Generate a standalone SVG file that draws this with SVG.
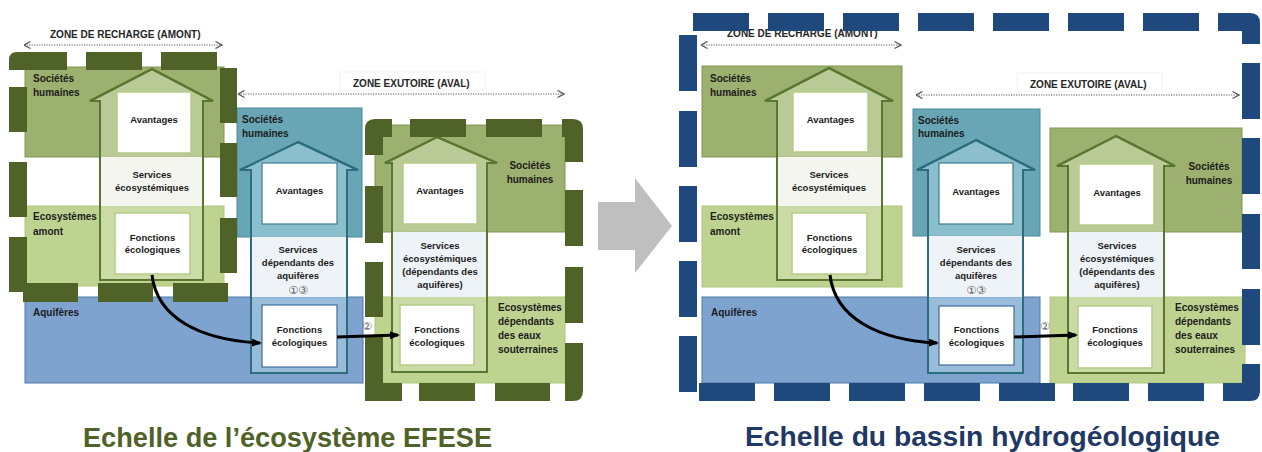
<svg xmlns="http://www.w3.org/2000/svg" width="1262" height="452" viewBox="0 0 1262 452">
<style>
.olive{fill:#9CB06F;stroke:#7E9552;stroke-width:1}
.lg{fill:#BED38F;stroke:#AFC67E;stroke-width:1}
.teal{fill:#68A6B6;stroke:#4A8A9C;stroke-width:1}
.aq{fill:#7FA3CF;stroke:#4F79A9;stroke-width:1}
.garr{fill:#D7E4BD;fill-opacity:.5;stroke:#5A7731;stroke-width:2}
.tarr{fill:#B7DEE8;fill-opacity:.45;stroke:#2C6E80;stroke-width:2}
.gband{fill:#F3F5EE}
.bband{fill:#EEF3F7}
.gbox{fill:#fff;stroke:#B4CB86;stroke-width:1.5}
.tbox{fill:#fff;stroke:#3D7D90;stroke-width:1.2}
.bbox{fill:#fff;stroke:#40699A;stroke-width:1.2}
.lbl{font-family:'Liberation Sans',Arial,sans-serif;font-weight:bold;font-size:10px;fill:#1c1c1c}
.in{font-family:'Liberation Sans',Arial,sans-serif;font-weight:bold;font-size:9.5px;fill:#1c1c1c;text-anchor:middle}
.zone{font-family:'Liberation Sans',Arial,sans-serif;font-weight:bold;font-size:10px;fill:#262626}
.num{font-family:'DejaVu Sans',sans-serif;font-size:11px;fill:#5a5a5a;text-anchor:middle}
.dg{fill:#4F6228}
.db{fill:#1F497D}
.dot{stroke:#666;stroke-width:1.2;stroke-dasharray:1.3 1.2;fill:none;marker-start:url(#chev);marker-end:url(#chev)}
.con{stroke:#000;stroke-width:3;fill:none;marker-end:url(#ah)}
.title{font-family:'Liberation Sans',Arial,sans-serif;font-weight:bold;font-size:27px}
</style>
<defs>
<marker id="chev" viewBox="0 0 8 8" refX="7.5" refY="4" markerWidth="8" markerHeight="8" markerUnits="userSpaceOnUse" orient="auto-start-reverse">
<path d="M1,0.5 L7.5,4 L1,7.5" fill="none" stroke="#555" stroke-width="1.2"/>
</marker>
<marker id="ah" viewBox="0 0 10 8" refX="8" refY="4" markerWidth="10" markerHeight="8" markerUnits="userSpaceOnUse" orient="auto">
<path d="M0,0 L10,4 L0,8 Z" fill="#000"/>
</marker>
</defs>
<rect width="1262" height="452" fill="#fff"/>

<!-- ===== LEFT: Echelle de l'écosystème ===== -->
<g id="zone-recharge-left">
<text class="zone" x="50" y="37.5">ZONE DE RECHARGE (AMONT)</text>
<line class="dot" x1="24" y1="45" x2="222" y2="45"/>
</g>
<g id="zone-exutoire-left">
<rect x="340" y="72" width="145" height="18" fill="#fff" stroke="#f2f2f2"/>
<text class="zone" x="353" y="87">ZONE EXUTOIRE (AVAL)</text>
<line class="dot" x1="238" y1="94" x2="564" y2="94"/>
</g>

<g id="L-societes-amont"><rect class="olive" x="25" y="67" width="199" height="90"/><text class="lbl" x="33" y="81.7">Sociétés</text><text class="lbl" x="33" y="96">humaines</text></g>
<g id="L-ecosystemes-amont"><rect class="lg" x="25" y="206" width="199" height="80"/><text class="lbl" x="33" y="219.5">Ecosystèmes</text><text class="lbl" x="33" y="234.5">amont</text></g>
<g id="L-aquiferes"><rect class="aq" x="25" y="297" width="338" height="86"/><text class="lbl" x="33" y="316">Aquifères</text></g>
<g id="L-societes-aval-teal"><rect class="teal" x="237" y="108" width="125" height="129"/><text class="lbl" x="242" y="123.3">Sociétés</text><text class="lbl" x="242" y="137.3">humaines</text></g>
<g id="L-societes-aval"><rect class="olive" x="375" y="125" width="190" height="107"/><text class="lbl" x="530" y="169.3" text-anchor="middle">Sociétés</text><text class="lbl" x="530" y="183.3" text-anchor="middle">humaines</text></g>
<g id="L-ecosystemes-aval"><rect class="lg" x="375" y="297" width="190" height="86"/><text class="lbl" x="498" y="311">Ecosystèmes</text><text class="lbl" x="498" y="325">dépendants</text><text class="lbl" x="498" y="339">des eaux</text><text class="lbl" x="498" y="353">souterraines</text></g>

<g id="L-fleche-amont">
<path class="garr" d="M152,69 L213,101 L203,101 L203,280 L100,280 L100,101 L90,101 Z"/>
<rect class="gband" x="101" y="157" width="101" height="49"/>
<path d="M152,69 L213,101 L203,101 L203,280 L100,280 L100,101 L90,101 Z" fill="none" stroke="#5A7731" stroke-width="2"/>
</g>
<g id="L-avantages-amont"><rect class="gbox" x="117" y="92" width="74" height="61"/><text class="in" x="154" y="123">Avantages</text></g>
<g id="L-services-amont"><text class="in" x="152" y="178">Services</text><text class="in" x="152" y="191">écosystémiques</text></g>
<g id="L-fonctions-amont"><rect class="gbox" x="115" y="213" width="75" height="61"/><text class="in" x="152.5" y="240.5">Fonctions</text><text class="in" x="152.5" y="253">écologiques</text></g>

<g id="L-fleche-aquifere">
<path class="tarr" d="M298,142 L358,170 L347,170 L347,373 L251,373 L251,170 L240,170 Z"/>
<rect class="bband" x="252" y="237" width="94" height="60"/>
<path d="M298,142 L358,170 L347,170 L347,373 L251,373 L251,170 L240,170 Z" fill="none" stroke="#2C6E80" stroke-width="2"/>
</g>
<g id="L-avantages-aquifere"><rect class="tbox" x="262" y="163" width="75" height="61"/><text class="in" x="299.5" y="193.5">Avantages</text></g>
<g id="L-services-aquifere"><text class="in" x="298" y="252.7">Services</text><text class="in" x="298" y="265.5">dépendants des</text><text class="in" x="298" y="278.5">aquifères</text><text class="num" x="298" y="294">①③</text></g>
<g id="L-fonctions-aquifere"><rect class="bbox" x="262" y="305" width="75" height="62"/><text class="in" x="299.5" y="333.3">Fonctions</text><text class="in" x="299.5" y="346">écologiques</text></g>

<g id="L-fleche-aval">
<path class="garr" d="M437,137 L497,163 L487,163 L487,372 L392,372 L392,163 L385,163 Z"/>
<rect class="bband" x="393" y="232" width="93" height="65"/>
<path d="M437,137 L497,163 L487,163 L487,372 L392,372 L392,163 L385,163 Z" fill="none" stroke="#5A7731" stroke-width="2"/>
</g>
<g id="L-avantages-aval"><rect class="gbox" x="403" y="163" width="74" height="61"/><text class="in" x="440" y="194.3">Avantages</text></g>
<g id="L-services-aval"><text class="in" x="440" y="248.5">Services</text><text class="in" x="440" y="261.5">écosystémiques</text><text class="in" x="440" y="274.5">(dépendants des</text><text class="in" x="440" y="287.5">aquifères)</text></g>
<g id="L-fonctions-aval"><rect class="gbox" x="400" y="305" width="74" height="60"/><text class="in" x="437" y="333">Fonctions</text><text class="in" x="437" y="346">écologiques</text></g>

<g id="L-perimetre-recharge">
<path class="dg" d="M9,70 V60 Q9,52 17,52 H67 V70 Z"/>
<rect class="dg" x="86" y="52" width="56" height="18"/><rect class="dg" x="161" y="52" width="56" height="18"/>
<rect class="dg" x="220" y="68" width="17" height="55"/><rect class="dg" x="220" y="143" width="17" height="54"/><rect class="dg" x="220" y="218" width="17" height="55"/>
<rect class="dg" x="9" y="87" width="18" height="45"/><rect class="dg" x="9" y="162" width="18" height="55"/><rect class="dg" x="9" y="237" width="18" height="55"/>
<rect class="dg" x="23" y="283" width="55" height="19"/><rect class="dg" x="98" y="283" width="55" height="19"/><rect class="dg" x="173" y="283" width="55" height="19"/>
</g>
<g id="L-perimetre-aval">
<path class="dg" d="M365,155 V129 Q365,119 375,119 H392 V137 H383 V155 Z"/>
<rect class="dg" x="410" y="119" width="56" height="18"/><rect class="dg" x="486" y="119" width="56" height="18"/>
<path class="dg" d="M562,119 H573 Q583,119 583,129 V162 H565 V137 H562 Z"/>
<rect class="dg" x="565" y="190" width="18" height="56"/><rect class="dg" x="565" y="267" width="18" height="56"/>
<path class="dg" d="M565,343 H583 V391 Q583,401 573,401 H565 Z"/>
<rect class="dg" x="365" y="186" width="18" height="57"/><rect class="dg" x="365" y="262" width="18" height="55"/>
<path class="dg" d="M365,337 H383 V383 H402 V401 H365 Z"/>
<rect class="dg" x="419" y="383" width="56" height="18"/><rect class="dg" x="495" y="383" width="55" height="18"/>
</g>

<g id="L-connecteurs">
<path class="con" d="M152,275 C157,318 200,340 260,343"/>
<path class="con" d="M337,337 L398,335"/>
<text class="num" x="367" y="329.5">②</text>
</g>

<text id="titre-gauche" class="title" x="83" y="446.5" fill="#4F6228" textLength="409" lengthAdjust="spacingAndGlyphs">Echelle de l’écosystème EFESE</text>

<!-- ===== big grey arrow ===== -->
<g id="fleche-transition"><path d="M598,202 H635 V178 L672,226 L635,273 V250 H598 Z" fill="#BFBFBF"/></g>

<!-- ===== RIGHT: Echelle du bassin ===== -->
<g id="zone-recharge-right">
<text class="zone" x="727" y="37">ZONE DE RECHARGE (AMONT)</text>
<line class="dot" x1="701" y1="45" x2="901" y2="45"/>
</g>
<g id="zone-exutoire-right">
<rect x="1017" y="73" width="145" height="18" fill="#fff" stroke="#f2f2f2"/>
<text class="zone" x="1030" y="88">ZONE EXUTOIRE (AVAL)</text>
<line class="dot" x1="916" y1="95" x2="1239" y2="95"/>
</g>

<g id="R-societes-amont"><rect class="olive" x="702" y="66" width="200" height="91"/><text class="lbl" x="710" y="81.7">Sociétés</text><text class="lbl" x="710" y="96">humaines</text></g>
<g id="R-ecosystemes-amont"><rect class="lg" x="702" y="206" width="200" height="81"/><text class="lbl" x="710" y="220">Ecosystèmes</text><text class="lbl" x="710" y="234.5">amont</text></g>
<g id="R-aquiferes"><rect class="aq" x="702" y="297" width="338" height="86"/><text class="lbl" x="711" y="316">Aquifères</text></g>
<g id="R-societes-aval-teal"><rect class="teal" x="913" y="109" width="127" height="127"/><text class="lbl" x="918" y="124">Sociétés</text><text class="lbl" x="918" y="137.3">humaines</text></g>
<g id="R-societes-aval"><rect class="olive" x="1050" y="128" width="192" height="104"/><text class="lbl" x="1209" y="170" text-anchor="middle">Sociétés</text><text class="lbl" x="1209" y="184" text-anchor="middle">humaines</text></g>
<g id="R-ecosystemes-aval"><rect class="lg" x="1050" y="297" width="195" height="86"/><text class="lbl" x="1175" y="310.7">Ecosystèmes</text><text class="lbl" x="1175" y="325">dépendants</text><text class="lbl" x="1175" y="339">des eaux</text><text class="lbl" x="1175" y="353">souterraines</text></g>

<g id="R-fleche-amont">
<path class="garr" d="M829,68 L893,101 L882,101 L882,280 L777,280 L777,101 L765,101 Z"/>
<rect class="gband" x="778" y="157" width="103" height="49"/>
<path d="M829,68 L893,101 L882,101 L882,280 L777,280 L777,101 L765,101 Z" fill="none" stroke="#5A7731" stroke-width="2"/>
</g>
<g id="R-avantages-amont"><rect class="gbox" x="793" y="92" width="75" height="60"/><text class="in" x="830.5" y="123.3">Avantages</text></g>
<g id="R-services-amont"><text class="in" x="829" y="177.7">Services</text><text class="in" x="829" y="190.5">écosystémiques</text></g>
<g id="R-fonctions-amont"><rect class="gbox" x="792" y="213" width="75" height="61"/><text class="in" x="829.5" y="240.7">Fonctions</text><text class="in" x="829.5" y="253.3">écologiques</text></g>

<g id="R-fleche-aquifere">
<path class="tarr" d="M976,140 L1035,170 L1023,170 L1023,373 L928,373 L928,170 L917,170 Z"/>
<rect class="bband" x="929" y="236" width="93" height="61"/>
<path d="M976,140 L1035,170 L1023,170 L1023,373 L928,373 L928,170 L917,170 Z" fill="none" stroke="#2C6E80" stroke-width="2"/>
</g>
<g id="R-avantages-aquifere"><rect class="tbox" x="939" y="163" width="74" height="61"/><text class="in" x="976" y="195">Avantages</text></g>
<g id="R-services-aquifere"><text class="in" x="976" y="253.3">Services</text><text class="in" x="976" y="266">dépendants des</text><text class="in" x="976" y="279">aquifères</text><text class="num" x="976" y="294">①③</text></g>
<g id="R-fonctions-aquifere"><rect class="bbox" x="939" y="306" width="75" height="59"/><text class="in" x="976.5" y="333.3">Fonctions</text><text class="in" x="976.5" y="346">écologiques</text></g>

<g id="R-fleche-aval">
<path class="garr" d="M1116,136 L1175,166 L1164,166 L1164,373 L1068,373 L1068,166 L1057,166 Z"/>
<rect class="bband" x="1069" y="232" width="94" height="65"/>
<path d="M1116,136 L1175,166 L1164,166 L1164,373 L1068,373 L1068,166 L1057,166 Z" fill="none" stroke="#5A7731" stroke-width="2"/>
</g>
<g id="R-avantages-aval"><rect class="gbox" x="1079" y="164" width="75" height="61"/><text class="in" x="1117" y="195.5">Avantages</text></g>
<g id="R-services-aval"><text class="in" x="1117" y="249">Services</text><text class="in" x="1117" y="262">écosystémiques</text><text class="in" x="1117" y="275">(dépendants des</text><text class="in" x="1117" y="288">aquifères)</text></g>
<g id="R-fonctions-aval"><rect class="gbox" x="1078" y="306" width="74" height="62"/><text class="in" x="1115" y="333.3">Fonctions</text><text class="in" x="1115" y="346">écologiques</text></g>

<g id="R-perimetre-bassin">
<rect class="db" x="693" y="13" width="56" height="18"/><rect class="db" x="768" y="13" width="56" height="18"/><rect class="db" x="843" y="13" width="56" height="18"/><rect class="db" x="918" y="13" width="56" height="18"/><rect class="db" x="993" y="13" width="56" height="18"/><rect class="db" x="1068" y="13" width="56" height="18"/><rect class="db" x="1143" y="13" width="56" height="18"/>
<path class="db" d="M1218,13 H1250 Q1260,13 1260,23 V44 H1242 V31 H1218 Z"/>
<rect class="db" x="1242" y="63" width="18" height="56"/><rect class="db" x="1242" y="138" width="18" height="56"/><rect class="db" x="1242" y="214" width="18" height="55"/><rect class="db" x="1242" y="289" width="18" height="56"/>
<path class="db" d="M1242,364 H1260 V391 Q1260,401 1250,401 H1223 V383 H1242 Z"/>
<rect class="db" x="699" y="383" width="56" height="18"/><rect class="db" x="774" y="383" width="56" height="18"/><rect class="db" x="849" y="383" width="56" height="18"/><rect class="db" x="924" y="383" width="56" height="18"/><rect class="db" x="999" y="383" width="56" height="18"/><rect class="db" x="1073" y="383" width="56" height="18"/><rect class="db" x="1148" y="383" width="56" height="18"/>
<rect class="db" x="679" y="35" width="18" height="56"/><rect class="db" x="679" y="111" width="18" height="56"/><rect class="db" x="679" y="186" width="18" height="56"/><rect class="db" x="679" y="261" width="18" height="56"/><rect class="db" x="679" y="336" width="18" height="56"/>
</g>

<g id="R-connecteurs">
<path class="con" d="M830,275 C835,318 878,340 937,343"/>
<path class="con" d="M1014,337 L1076,335"/>
<text class="num" x="1045" y="329.5">②</text>
</g>

<text id="titre-droite" class="title" x="745" y="446" fill="#1F3864" textLength="475" lengthAdjust="spacingAndGlyphs">Echelle du bassin hydrogéologique</text>
</svg>
